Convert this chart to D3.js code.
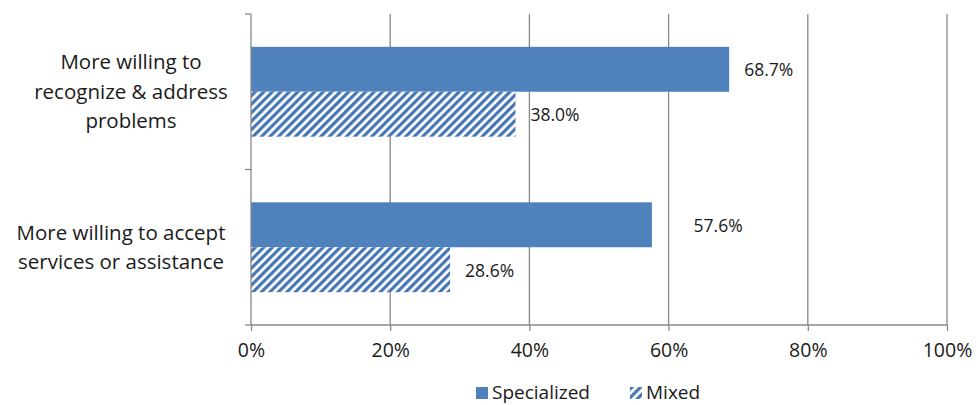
<!DOCTYPE html>
<html>
<head>
<meta charset="utf-8">
<script src="https://cdn.jsdelivr.net/npm/d3@7"></script>
<style>
  body { margin: 0; background: #fff; }
  text { font-family: "Open Sans", "Noto Sans", sans-serif; fill: #1a1a1a; }
</style>
</head>
<body>
<svg id="myChart" width="979" height="405"></svg>
<script>
// Chart data
const categories = ['More willing to recognize & address problems', 'More willing to accept services or assistance'];
const categoryLines = [['More willing to', 'recognize & address', 'problems'], ['More willing to accept', 'services or assistance']];
const seriesNames = ['Specialized', 'Mixed'];
const specialized = [68.7, 57.6];
const mixed = [38.0, 28.6];
const xTicks = [0, 20, 40, 60, 80, 100];

const blue = '#4f81bd';
const svg = d3.select('#myChart');

// Plot area
const plotLeft = 251, plotRight = 947, plotTop = 14, plotBottom = 325;

const xScale = d3.scaleLinear().domain([0, 100]).range([plotLeft, plotRight]);
const yScale = d3.scaleBand().domain(categories).range([plotTop, plotBottom]);
const inner = d3.scaleBand().domain(seriesNames).range([0, yScale.bandwidth()]).paddingOuter(0.73).paddingInner(0);

// Hatch pattern for the Mixed series
const defs = svg.append('defs');
const pat = defs.append('pattern')
  .attr('id', 'hatch')
  .attr('patternUnits', 'userSpaceOnUse')
  .attr('width', 6).attr('height', 6)
  .attr('patternTransform', 'rotate(45)');
pat.append('rect').attr('width', 6).attr('height', 6).attr('fill', '#fff');
pat.append('rect').attr('width', 3.2).attr('height', 6).attr('fill', '#4677b4');

// Gridlines
svg.append('g')
  .selectAll('line')
  .data(xTicks.slice(1))
  .enter().append('line')
  .attr('x1', d => xScale(d)).attr('x2', d => xScale(d))
  .attr('y1', plotTop).attr('y2', plotBottom)
  .attr('stroke', '#888').attr('stroke-width', 1.3);

// Bars
const rows = categories.map((c, i) => ({ cat: c, values: [specialized[i], mixed[i]] }));
const groups = svg.append('g').selectAll('g')
  .data(rows).enter().append('g')
  .attr('transform', d => `translate(0, ${yScale(d.cat)})`);

groups.selectAll('rect')
  .data(d => d.values.map((v, j) => ({ name: seriesNames[j], v })))
  .enter().append('rect')
  .attr('x', xScale(0))
  .attr('y', d => inner(d.name))
  .attr('width', d => xScale(d.v) - xScale(0))
  .attr('height', inner.bandwidth())
  .attr('fill', d => d.name === 'Mixed' ? 'url(#hatch)' : blue);

// Value labels - push past a gridline if the label would sit on it
function labelX(v) {
  let x = xScale(v) + 15;
  xTicks.forEach(t => {
    const gx = xScale(t);
    if (gx > x && gx < x + 55) x = gx + 25;
  });
  return x;
}
groups.selectAll('text.val')
  .data(d => d.values.map((v, j) => ({ name: seriesNames[j], v })))
  .enter().append('text')
  .attr('class', 'val')
  .attr('x', d => labelX(d.v))
  .attr('y', d => inner(d.name) + inner.bandwidth() / 2 + 1)
  .attr('dy', '0.35em')
  .style('font-size', '17.5px')
  .text(d => d.v.toFixed(1) + '%');

// Axes
const xAxis = svg.append('g')
  .attr('transform', `translate(0, ${plotBottom})`)
  .call(d3.axisBottom(xScale).tickValues(xTicks).tickSize(6).tickPadding(12).tickFormat(d => d + '%'));
xAxis.select('.domain').attr('stroke', '#888').attr('stroke-width', 1.3).attr('d', `M${plotLeft},0H${plotRight}`);
xAxis.selectAll('line').attr('stroke', '#888').attr('stroke-width', 1.3);
xAxis.selectAll('text').style('font-size', '19.5px').attr('fill', '#1a1a1a');

const yAxis = svg.append('g')
  .attr('transform', `translate(${plotLeft}, 0)`)
  .call(d3.axisLeft(yScale).tickValues([]).tickSize(0));
yAxis.select('.domain').attr('stroke', '#888').attr('stroke-width', 1.3).attr('d', `M0,${plotTop}V${plotBottom}`);
// tick marks at band boundaries
yAxis.selectAll('line.b')
  .data([plotTop, yScale(categories[1]), plotBottom])
  .enter().append('line')
  .attr('x1', -6).attr('x2', 0)
  .attr('y1', d => d).attr('y2', d => d)
  .attr('stroke', '#888').attr('stroke-width', 1.3);

// Category labels
const lineH = 29.5;
svg.append('g').selectAll('text')
  .data(categories).enter().append('text')
  .attr('text-anchor', 'middle')
  .attr('y', (d, i) => yScale(d) + yScale.bandwidth() / 2 - (categoryLines[i].length - 1) * lineH / 2)
  .style('font-size', '20.5px')
  .each(function (d, i) {
    d3.select(this).selectAll('tspan')
      .data(categoryLines[i]).enter().append('tspan')
      .attr('x', i === 0 ? 131 : 121)
      .attr('dy', (t, k) => k === 0 ? '0.35em' : lineH)
      .text(t => t);
  });

// Legend
const legend = svg.append('g').attr('transform', 'translate(476, 387)');
const legendItems = legend.selectAll('g')
  .data(seriesNames).enter().append('g')
  .attr('transform', (d, i) => `translate(${i === 0 ? 0 : 154}, 0)`);
legendItems.append('rect')
  .attr('width', 12).attr('height', 12)
  .attr('fill', d => d === 'Mixed' ? 'url(#hatch)' : blue);
legendItems.append('text')
  .attr('x', 16).attr('y', 5).attr('dy', '0.35em')
  .style('font-size', '19px')
  .text(d => d);
</script>
</body>
</html>
